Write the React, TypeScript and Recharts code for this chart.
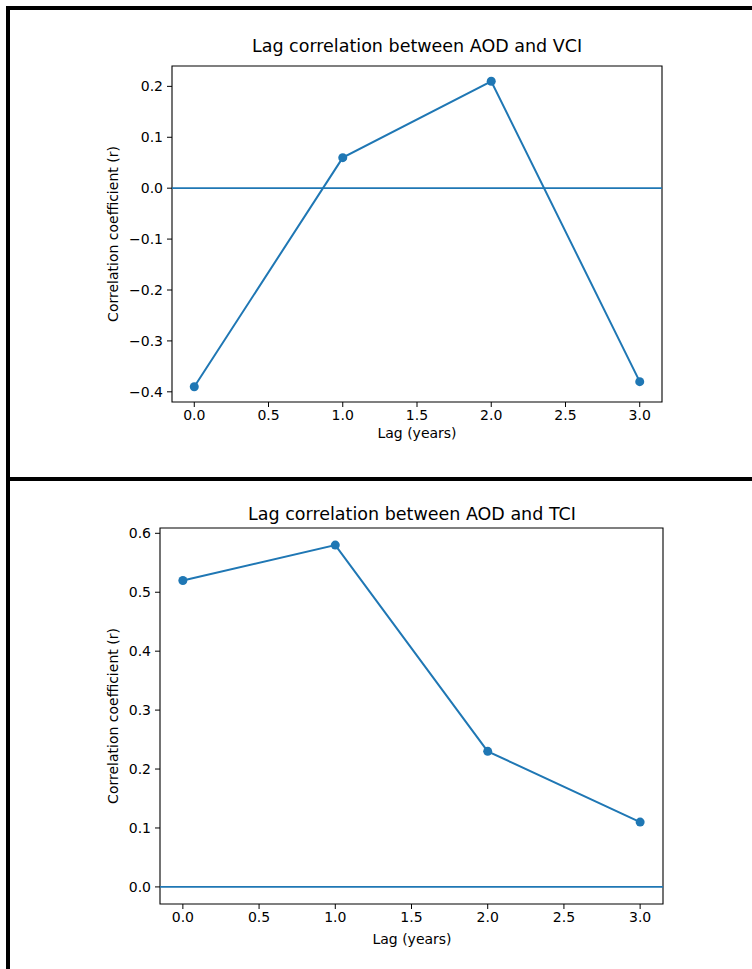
import { LineChart, Line, XAxis, YAxis, ReferenceLine, ReferenceArea } from "recharts"

const lags = [0, 1, 2, 3]
const vciCorr = [-0.39, 0.06, 0.21, -0.38]
const tciCorr = [0.52, 0.58, 0.23, 0.11]
const lagTicks = [0, 0.5, 1, 1.5, 2, 2.5, 3]
const vciTicks = [-0.4, -0.3, -0.2, -0.1, 0, 0.1, 0.2]
const tciTicks = [0, 0.1, 0.2, 0.3, 0.4, 0.5, 0.6]

const BLUE = "#1f77b4"
const FONT = "DejaVu Sans, sans-serif"

const fmt = (v: number) => (v < 0 ? "\u2212" + Math.abs(v).toFixed(1) : v.toFixed(1))

type PanelProps = {
  top: number
  height: number
  values: number[]
  ticks: number[]
  yDomain: [number, number]
  margin: { top: number; right: number; bottom: number; left: number }
}

function Panel({ top, height, values, ticks, yDomain, margin }: PanelProps) {
  const data = lags.map((lag, i) => ({ lag, r: values[i] }))
  const tickStyle = { fontSize: 14, fill: "#000", fontFamily: FONT }
  return (
    <div style={{ position: "absolute", left: 0, top, width: 752, height }}>
      <LineChart width={752} height={height} data={data} margin={margin}>
        <XAxis
          dataKey="lag"
          type="number"
          domain={[-0.15, 3.15]}
          ticks={lagTicks}
          tickFormatter={fmt}
          allowDataOverflow
          height={30}
          tick={tickStyle}
          tickSize={5}
          tickMargin={3}
          axisLine={false}
          tickLine={{ stroke: "#000" }}
        />
        <YAxis
          type="number"
          domain={yDomain}
          ticks={ticks}
          tickFormatter={fmt}
          allowDataOverflow
          width={60}
          tick={tickStyle}
          tickSize={5}
          tickMargin={4}
          axisLine={false}
          tickLine={{ stroke: "#000" }}
        />
        <ReferenceArea
          x1={-0.15}
          x2={3.15}
          y1={yDomain[0]}
          y2={yDomain[1]}
          fill="none"
          stroke="#000"
          strokeWidth={1.1}
          ifOverflow="visible"
        />
        <ReferenceLine y={0} stroke={BLUE} strokeWidth={1.7} />
        <Line
          type="linear"
          dataKey="r"
          stroke={BLUE}
          strokeWidth={2}
          dot={{ r: 4.5, fill: BLUE, stroke: BLUE, strokeWidth: 0 }}
          isAnimationActive={false}
        />
      </LineChart>
    </div>
  )
}

function Txt({ x, y, size, children, rotate }: { x: number; y: number; size: number; children: string; rotate?: boolean }) {
  return (
    <div
      style={{
        position: "absolute",
        left: x,
        top: y,
        transform: `translate(-50%, -50%)${rotate ? " rotate(-90deg)" : ""}`,
        whiteSpace: "nowrap",
        fontFamily: FONT,
        fontSize: size,
        color: "#000",
        lineHeight: 1,
      }}
    >
      {children}
    </div>
  )
}

export default function App() {
  return (
    <div style={{ position: "absolute", left: 0, top: 0, width: 752, height: 969, background: "#fff", overflow: "hidden" }}>
      <Panel
        top={0}
        height={470}
        values={vciCorr}
        ticks={vciTicks}
        yDomain={[-0.42, 0.24]}
        margin={{ top: 66, right: 90, bottom: 38, left: 112 }}
      />
      <Panel
        top={482}
        height={487}
        values={tciCorr}
        ticks={tciTicks}
        yDomain={[-0.029, 0.609]}
        margin={{ top: 46, right: 89, bottom: 35, left: 100 }}
      />
      <Txt x={417} y={47} size={17.5}>Lag correlation between AOD and VCI</Txt>
      <Txt x={113} y={234} size={14} rotate>Correlation coefficient (r)</Txt>
      <Txt x={417} y={433} size={14}>Lag (years)</Txt>
      <Txt x={412} y={515} size={17.5}>Lag correlation between AOD and TCI</Txt>
      <Txt x={113} y={716} size={14} rotate>Correlation coefficient (r)</Txt>
      <Txt x={412} y={939} size={14}>Lag (years)</Txt>
      {/* frame lines */}
      <div style={{ position: "absolute", left: 6, top: 6, width: 746, height: 4, background: "#000" }} />
      <div style={{ position: "absolute", left: 6, top: 6, width: 4, height: 963, background: "#000" }} />
      <div style={{ position: "absolute", left: 6, top: 477, width: 746, height: 4, background: "#000" }} />
    </div>
  )
}
